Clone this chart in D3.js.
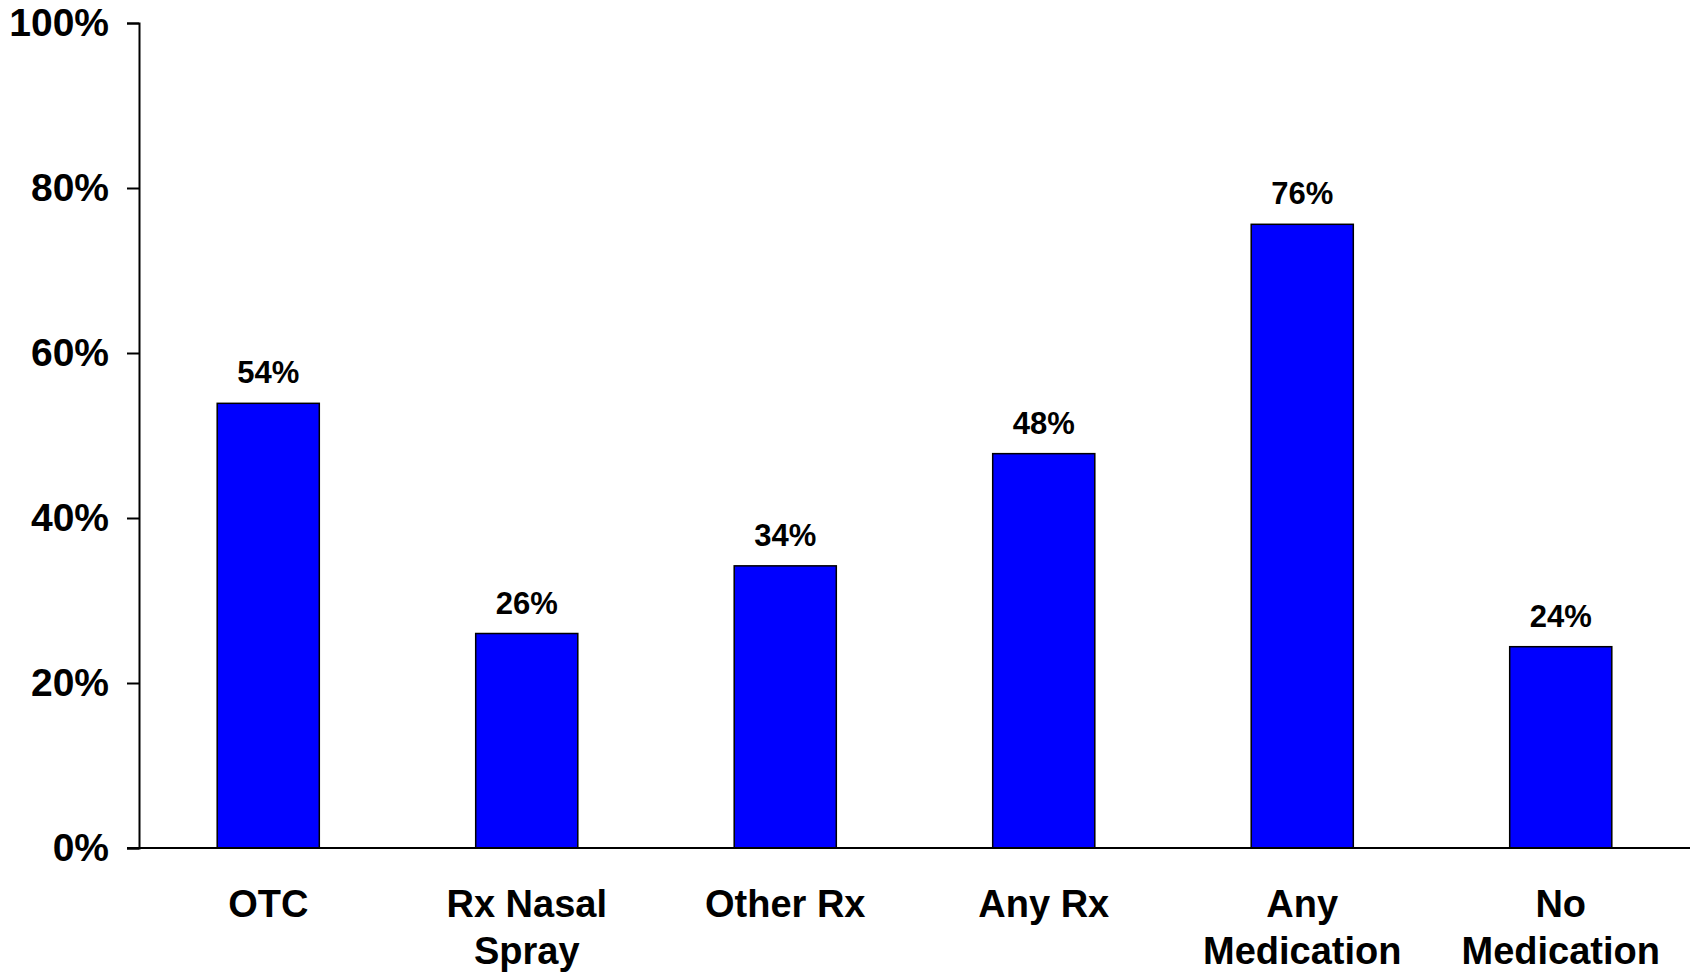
<!DOCTYPE html>
<html>
<head>
<meta charset="utf-8">
<script src="https://cdn.jsdelivr.net/npm/d3@7"></script>
<style>
  html, body { margin: 0; padding: 0; background: #fff; }
  svg { display: block; }
  text { font-family: "Liberation Sans", Arial, sans-serif; font-weight: bold; fill: #000; }
</style>
</head>
<body>
<svg id="chart" width="1690" height="973"></svg>
<script>
const categories = [["OTC"], ["Rx Nasal", "Spray"], ["Other Rx"], ["Any Rx"], ["Any", "Medication"], ["No", "Medication"]];
const values = [53.9, 26.0, 34.2, 47.8, 75.6, 24.4];
const valueLabels = ["54%", "26%", "34%", "48%", "76%", "24%"];
const yTicks = [0, 20, 40, 60, 80, 100];

const svg = d3.select("#chart");
const x0 = 139, x1 = 1690, yTop = 23, yBot = 848;

const x = d3.scaleBand()
  .domain(d3.range(categories.length))
  .range([x0, x1])
  .paddingInner(0.605)
  .paddingOuter(0.3025);

const y = d3.scaleLinear().domain([0, 100]).range([yBot, yTop]);

// y axis
const yAxis = d3.axisLeft(y).tickValues(yTicks).tickFormat(d => d + "%").tickSize(12).tickPadding(18);
const gy = svg.append("g").attr("transform", `translate(${x0},0)`).call(yAxis);
gy.select(".domain").attr("stroke", "#000").attr("stroke-width", 2);
gy.selectAll(".tick line").attr("stroke", "#000").attr("stroke-width", 2);
gy.selectAll(".tick text").style("font-size", "39px").style("font-family", "'Liberation Sans', Arial, sans-serif").style("font-weight", "bold").attr("fill", "#000");

// bars
svg.append("g").selectAll("rect").data(values).join("rect")
  .attr("x", (d, i) => x(i))
  .attr("y", d => y(d))
  .attr("width", x.bandwidth())
  .attr("height", d => y(0) - y(d))
  .attr("fill", "#0000FF")
  .attr("stroke", "#000")
  .attr("stroke-width", 1.5);

// x axis line
svg.append("line")
  .attr("x1", x0 - 12).attr("x2", x1)
  .attr("y1", y(0)).attr("y2", y(0))
  .attr("stroke", "#000").attr("stroke-width", 2);

// value labels
svg.append("g").selectAll("text").data(values).join("text")
  .attr("x", (d, i) => x(i) + x.bandwidth() / 2)
  .attr("y", d => y(d) - 20)
  .attr("text-anchor", "middle")
  .style("font-size", "31px")
  .text((d, i) => valueLabels[i]);

// category labels
const cat = svg.append("g").selectAll("text").data(categories).join("text")
  .attr("x", (d, i) => x(i) + x.bandwidth() / 2)
  .attr("y", y(0) + 69)
  .attr("text-anchor", "middle")
  .style("font-size", "38px");
cat.each(function(lines, i) {
  const t = d3.select(this);
  lines.forEach((ln, j) => {
    t.append("tspan")
      .attr("x", x(i) + x.bandwidth() / 2)
      .attr("dy", j === 0 ? 0 : 47)
      .text(ln);
  });
});
</script>
</body>
</html>
